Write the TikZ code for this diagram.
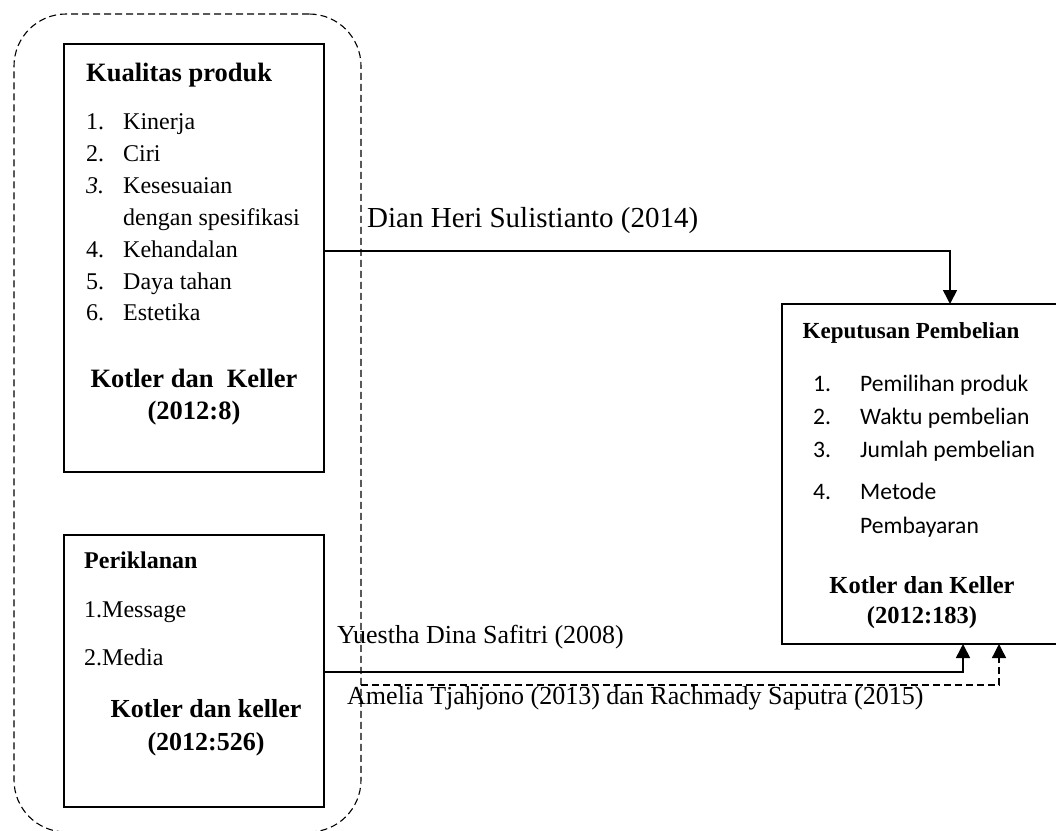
\documentclass[tikz,border=0pt]{standalone}
\usepackage{fontspec}
\setmainfont{Liberation Serif}
\newfontfamily\calibfont{Carlito}
\usetikzlibrary{arrows.meta}
\newcommand\fsz[1]{\fontsize{#1pt}{#1pt}\selectfont}
\begin{document}
\begin{tikzpicture}[x=1pt,y=-1pt,
  boxline/.style={draw=black,line width=1.8pt,inner sep=0pt,outer sep=0pt,anchor=north west},
  grpline/.style={draw=black,line width=1.1pt,dash pattern=on 7pt off 4pt,rounded corners=52pt,inner sep=0pt,outer sep=0pt,anchor=north west},
  conn/.style={line width=1.6pt,line join=miter},
  dconn/.style={line width=1.4pt,dash pattern=on 7pt off 4pt},
  tip/.style={-{Triangle[width=14pt,length=14pt]}},
  lt/.style={anchor=base west,inner sep=0pt},
  ct/.style={anchor=base,inner sep=0pt},
  ser/.style={font=\fsz{24}},
  serb/.style={font=\bfseries\fsz{26.5}},
  cal/.style={font=\calibfont\fsz{23.6}}]
\useasboundingbox[fill=white] (0,0) rectangle (1056,830);
% container
\node[grpline,minimum width=347pt,minimum height=818pt] (grp) at (14,14) {};
% boxes
\node[boxline,minimum width=260pt,minimum height=428pt] (kp) at (64,44) {};
\node[boxline,minimum width=260pt,minimum height=272pt] (ik) at (64,535) {};
\node[inner sep=0pt,outer sep=0pt,anchor=north west,minimum width=274pt,minimum height=340pt] (kb) at (782,304) {};
\draw[line width=1.8pt] (kb.north east) -- (kb.north west) -- (kb.south west) -- (kb.south east);
% top box text
\node[lt,font=\bfseries\fsz{26.5}] (kpt) at (86,81) {Kualitas produk};
\node[lt,ser] (n1) at (86,129) {1.};  \node[lt,ser] (i1) at (123,129) {Kinerja};
\node[lt,ser] (n2) at (86,161) {2.};  \node[lt,ser] (i2) at (123,161) {Ciri};
\node[lt,ser] (n3) at (86,193) {\textit{3.}}; \node[lt,ser] (i3) at (123,193) {Kesesuaian};
\node[lt,ser] (i3b) at (123,225) {dengan spesifikasi};
\node[lt,ser] (n4) at (86,257) {4.};  \node[lt,ser] (i4) at (123,257) {Kehandalan};
\node[lt,ser] (n5) at (86,289) {5.};  \node[lt,ser] (i5) at (123,289) {Daya tahan};
\node[lt,ser] (n6) at (86,320) {6.};  \node[lt,ser] (i6) at (123,320) {Estetika};
\node[ct,serb] (kr1) at (194,387) {Kotler dan\ \ Keller};
\node[ct,serb] (kr2) at (194,419) {(2012:8)};
% bottom box text
\node[lt,font=\bfseries\fsz{24}] (ikt) at (84,568) {Periklanan};
\node[lt,ser] (m1) at (84,617) {1.Message};
\node[lt,ser] (m2) at (84,665) {2.Media};
\node[ct,font=\bfseries\fsz{26}] (kr3) at (206,717) {Kotler dan keller};
\node[ct,font=\bfseries\fsz{26}] (kr4) at (206,750) {(2012:526)};
% right box text
\node[ct,font=\bfseries\fsz{23}] (kbt) at (911,338) {Keputusan Pembelian};
\node[lt,cal] (r1) at (813,391) {1.}; \node[lt,cal] (s1) at (860,391) {Pemilihan produk};
\node[lt,cal] (r2) at (813,424) {2.}; \node[lt,cal] (s2) at (860,424) {Waktu pembelian};
\node[lt,cal] (r3) at (813,457) {3.}; \node[lt,cal] (s3) at (860,457) {Jumlah pembelian};
\node[lt,cal] (r4) at (813,499) {4.}; \node[lt,cal] (s4) at (860,499) {Metode};
\node[lt,cal] (s4b) at (860,533) {Pembayaran};
\node[ct,font=\bfseries\fsz{24.5}] (kr5) at (922,593) {Kotler dan Keller};
\node[ct,font=\bfseries\fsz{24.5}] (kr6) at (922,623) {(2012:183)};
% connector labels
\node[lt,font=\fsz{29}] (l1) at (367,227) {Dian Heri Sulistianto (2014)};
\node[lt,font=\fsz{26}] (l2) at (337,643) {Yuestha Dina Safitri (2008)};
\node[lt,font=\fsz{26}] (l3) at (347,704) {Amelia Tjahjono (2013) dan Rachmady Saputra (2015)};
% connectors
\coordinate (c1) at (950,251);
\coordinate (c2) at (963,672);
\coordinate (c3) at (999,685);
\draw[conn,tip] (kp.east |- c1) -- (c1) -- (kb.north -| c1);
\draw[conn,tip] (ik.east |- c2) -- (c2) -- (kb.south -| c2);
\draw[dconn,tip] (grp.east |- c3) -- (c3) -- (kb.south -| c3);
\end{tikzpicture}
\end{document}
